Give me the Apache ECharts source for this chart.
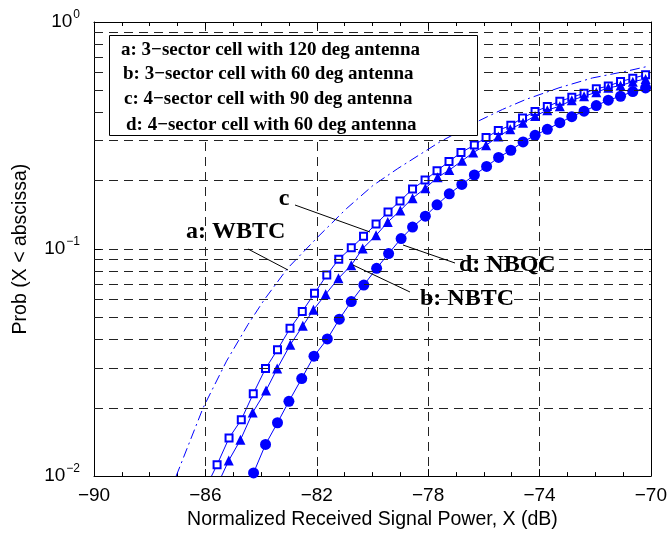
<!DOCTYPE html>
<html>
<head>
<meta charset="utf-8">
<title></title>
<style>
body{margin:0;background:#fff;}
#box{width:670px;height:535px;}
</style>
<script src="https://cdn.jsdelivr.net/npm/echarts@6.0.0/dist/echarts.min.js"></script>
</head>
<body>
<div id="box"></div>
<script>
// a: WBTC (dash-dot, no markers)
var aX = [-87.05,-86.08,-85.24,-84.47,-83.89,-83.05,-81.96,-80.94,-79.99,-79.09,-77.60,-76.14,-75.33,-74.49,-73.30,-72.10,-70.91,-70.13];
var aP = [0.0100,0.0200,0.0321,0.0465,0.0597,0.0822,0.1131,0.1504,0.1902,0.2262,0.2954,0.369,0.412,0.456,0.513,0.567,0.606,0.637];
// b: NBTC (triangles), first point is the line tail without marker
var bX = [-85.42,-85.16,-84.74,-84.30,-83.82,-83.42,-82.95,-82.50,-82.12,-81.68,-81.22,-80.76,-80.35,-79.87,-79.45,-79.00,-78.56,-78.10,-77.66,-77.24,-76.78,-76.38,-75.92,-75.48,-75.05,-74.59,-74.16,-73.72,-73.27,-72.84,-72.40,-71.96,-71.53,-71.09,-70.65,-70.19];
var bP = [0.0100,0.01172,0.01444,0.01905,0.02384,0.02977,0.03793,0.04592,0.05397,0.06324,0.0743,0.08492,0.1005,0.1149,0.1315,0.1479,0.1676,0.1853,0.2070,0.2228,0.2447,0.2662,0.2865,0.3129,0.3368,0.3604,0.3852,0.4091,0.4259,0.4527,0.4710,0.4904,0.5128,0.5248,0.5458,0.5615];
// c (squares), first point is the line tail without marker
var cX = [-85.78,-85.58,-85.15,-84.71,-84.28,-83.84,-83.41,-82.96,-82.52,-82.08,-81.64,-81.21,-80.76,-80.32,-79.87,-79.44,-79.01,-78.56,-78.11,-77.68,-77.25,-76.82,-76.34,-75.92,-75.48,-75.03,-74.61,-74.16,-73.72,-73.27,-72.84,-72.40,-71.96,-71.53,-71.09,-70.65,-70.19];
var cP = [0.0100,0.01122,0.01472,0.01771,0.02307,0.02976,0.03604,0.04474,0.05312,0.06385,0.07681,0.0902,0.1012,0.1138,0.1289,0.1455,0.1626,0.1840,0.2015,0.2213,0.243,0.266,0.287,0.310,0.333,0.351,0.378,0.403,0.424,0.448,0.466,0.486,0.508,0.522,0.547,0.565,0.586];
// d: NBQC (circles)
var dX = [-84.27,-83.84,-83.41,-83.00,-82.54,-82.10,-81.62,-81.19,-80.76,-80.31,-79.85,-79.42,-78.97,-78.56,-78.10,-77.68,-77.24,-76.79,-76.34,-75.90,-75.47,-75.03,-74.59,-74.16,-73.72,-73.27,-72.84,-72.40,-71.96,-71.53,-71.09,-70.65,-70.19];
var dP = [0.01033,0.01378,0.01718,0.02134,0.0269,0.03375,0.04018,0.04911,0.05871,0.06943,0.08221,0.09555,0.1112,0.1250,0.1396,0.1566,0.1750,0.1925,0.2119,0.2312,0.2531,0.2724,0.2963,0.3169,0.3368,0.3604,0.3828,0.4050,0.4285,0.4525,0.4710,0.4938,0.5126];

var minorY = [0.02,0.03,0.04,0.05,0.06,0.07,0.08,0.09,0.2,0.3,0.4,0.5,0.6,0.7,0.8,0.9];
var legendLines = ['a: 3\u2212sector cell with 120 deg antenna','b: 3\u2212sector cell with 60 deg antenna','c: 4\u2212sector cell with 90 deg antenna','d: 4\u2212sector cell with 60 deg antenna'];

var BLUE = '#0000ff';
var SERIF = '"Liberation Serif","Times New Roman",serif';
var SANS = '"Liberation Sans",Arial,sans-serif';
var gridDash = {color:'#222', type:[9,6], width:1};

function zip(xs, ps, noMarkFirst){
  return xs.map(function(x,i){
    if(noMarkFirst && i===0) return {value:[x,ps[i]], symbol:'none'};
    return [x,ps[i]];
  });
}

var chart = echarts.init(document.getElementById('box'));

var xBase = {
  type:'value', min:-90, max:-70, interval:4,
  axisLine:{lineStyle:{color:'#000',width:1}},
  axisTick:{inside:true,length:7,lineStyle:{color:'#000'}},
  minorTick:{show:true,splitNumber:4,length:4,lineStyle:{color:'#000'}}
};
var yBase = {
  type:'log', logBase:10, min:0.01, max:1,
  axisLine:{show:true,lineStyle:{color:'#000',width:1}},
  axisTick:{inside:true,length:7,lineStyle:{color:'#000'}}
};

var annFont = 'bold 24px '+SERIF;
var legFont = 'bold 19px '+SERIF;

chart.setOption({
  animation:false,
  backgroundColor:'#fff',
  grid:{left:94,right:18,top:22,bottom:56},
  xAxis:[
    Object.assign({}, xBase, {
      position:'bottom',
      name:'Normalized Received Signal Power, X (dB)',
      nameLocation:'middle', nameGap:32,
      nameTextStyle:{fontFamily:SANS,fontSize:19.5,color:'#000'},
      axisLabel:{fontFamily:SANS,fontSize:19,color:'#000',margin:10,
        formatter:function(v){return v<0?'\u2212'+Math.abs(v):String(v);}},
      splitLine:{show:true,lineStyle:gridDash}
    }),
    Object.assign({}, xBase, {position:'top',axisLabel:{show:false},splitLine:{show:false}})
  ],
  yAxis:[
    Object.assign({}, yBase, {
      position:'left',
      name:'Prob (X < abscissa)',
      nameLocation:'middle', nameGap:63,
      nameTextStyle:{fontFamily:SANS,fontSize:19.5,color:'#000'},
      axisLabel:{margin:14,color:'#000',
        formatter:function(v){
          var e = Math.round(Math.log10(v));
          return '{b|10}{s|'+(e<0?'\u2212'+(-e):e)+'}';
        },
        rich:{b:{fontFamily:SANS,fontSize:19,color:'#000'},
              s:{fontFamily:SANS,fontSize:12,color:'#000',verticalAlign:'bottom',padding:[0,0,14,1]}}},
      splitLine:{show:true,lineStyle:gridDash}
    }),
    Object.assign({}, yBase, {position:'right',axisLabel:{show:false},splitLine:{show:false}})
  ],
  series:[
    {
      name:'grid', type:'line', data:[], silent:true,
      markLine:{silent:true,symbol:'none',label:{show:false},lineStyle:gridDash,
        data:minorY.map(function(v){return {yAxis:v};})}
    },
    {
      name:'a', type:'line', showSymbol:false, symbol:'none',
      data:zip(aX,aP),
      lineStyle:{color:BLUE,width:1,type:[10,4,2,4]}, z:3
    },
    {
      name:'c', type:'line', symbol:'emptyRect', symbolSize:7,
      data:zip(cX,cP,true),
      itemStyle:{color:BLUE,borderColor:BLUE,borderWidth:1},
      lineStyle:{color:BLUE,width:1}, z:4
    },
    {
      name:'b', type:'line', symbol:'triangle', symbolSize:10,
      data:zip(bX,bP,true),
      itemStyle:{color:BLUE},
      lineStyle:{color:BLUE,width:1}, z:4
    },
    {
      name:'d', type:'line', symbol:'circle', symbolSize:11,
      data:zip(dX,dP),
      itemStyle:{color:BLUE},
      lineStyle:{color:BLUE,width:1}, z:4
    }
  ],
  graphic:[
    {type:'rect', z:100, shape:{x:109.5,y:35.5,width:368,height:100},
     style:{fill:'#fff',stroke:'#000',lineWidth:1}},
    {type:'text', z:101, x:121, y:50, style:{text:legendLines[0],font:legFont,fill:'#000',verticalAlign:'middle'}},
    {type:'text', z:101, x:123, y:74, style:{text:legendLines[1],font:legFont,fill:'#000',verticalAlign:'middle'}},
    {type:'text', z:101, x:124, y:99, style:{text:legendLines[2],font:legFont,fill:'#000',verticalAlign:'middle'}},
    {type:'text', z:101, x:126, y:125, style:{text:legendLines[3],font:legFont,fill:'#000',verticalAlign:'middle'}},
    // annotations
    {type:'text', z:101, x:284, y:199, style:{text:'c',font:annFont,fill:'#000',align:'center',verticalAlign:'middle'}},
    {type:'line', z:101, shape:{x1:295,y1:205,x2:370,y2:232}, style:{stroke:'#000',lineWidth:1}},
    {type:'text', z:101, x:186, y:232, style:{text:'a: WBTC',font:annFont,fill:'#000',verticalAlign:'middle'}},
    {type:'line', z:101, shape:{x1:248,y1:249,x2:288,y2:270}, style:{stroke:'#000',lineWidth:1}},
    {type:'text', z:101, x:459, y:265, style:{text:'d: NBQC',font:annFont,fill:'#000',verticalAlign:'middle'}},
    {type:'line', z:101, shape:{x1:403,y1:245,x2:455,y2:263}, style:{stroke:'#000',lineWidth:1}},
    {type:'text', z:101, x:420, y:299, style:{text:'b: NBTC',font:annFont,fill:'#000',verticalAlign:'middle'}},
    {type:'line', z:101, shape:{x1:353,y1:265,x2:410,y2:292}, style:{stroke:'#000',lineWidth:1}}
  ]
});
</script>
</body>
</html>
